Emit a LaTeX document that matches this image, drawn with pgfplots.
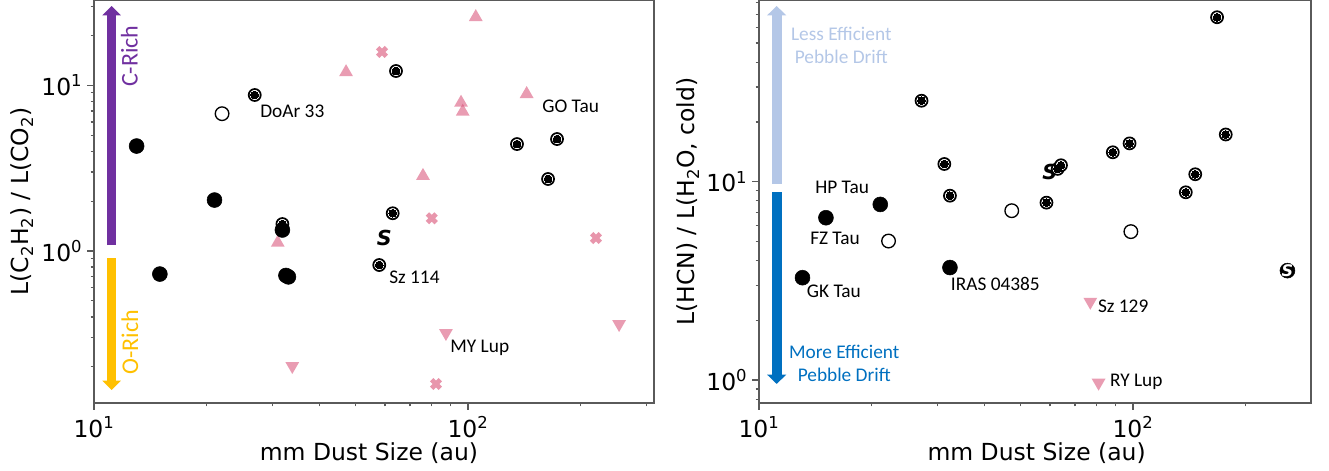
\documentclass[border=0pt]{standalone}
\usepackage{fontspec}
\setmainfont{DejaVu Sans}
\newfontfamily\calfont{Carlito}
\usepackage{pgfplots}
\usepackage{pgfplotstable}
\pgfplotsset{compat=1.18}
\usetikzlibrary{arrows.meta}

\definecolor{crich}{RGB}{112,48,160}
\definecolor{orich}{RGB}{255,192,0}
\definecolor{lessdrift}{RGB}{180,199,231}
\definecolor{moredrift}{RGB}{0,112,192}
\definecolor{pinkbase}{RGB}{215,75,115}
\definecolor{pinkx}{RGB}{232,150,172}
\definecolor{frame}{RGB}{90,90,90}

% ---------------- left panel: C2H2 / CO2 ----------------
\pgfplotstableread{
x y
13.0 4.30
15.0 0.726
21.0 2.03
31.9 1.339
32.6 0.712
33.1 0.698
}\lfilled
\pgfplotstableread{
x y
22.0 6.74
}\lopen
\pgfplotstableread{
x y
31.9 1.455
26.9 8.74
64.2 12.2
62.9 1.69
57.9 0.823
135.2 4.42
173.0 4.74
163.7 2.72
}\ltarget
\pgfplotstableread{
x y
59.7 1.203
}\lS
\pgfplotstableread{
x y
47.2 12.0
104.9 25.8
95.8 7.85
96.8 6.93
143.5 8.86
75.8 2.84
31.0 1.122
}\lup
\pgfplotstableread{
x y
58.9 15.9
80.0 1.575
219.8 1.198
82.1 0.1575
}\lcross
\pgfplotstableread{
x y
87.3 0.320
253.5 0.3625
33.9 0.2023
}\ldown

% ---------------- right panel: HCN / H2O (cold) ----------------
\pgfplotstableread{
x y
13.07 3.28
15.1 6.58
21.1 7.68
32.4 3.69
}\rfilled
\pgfplotstableread{
x y
22.2 5.02
47.4 7.14
98.7 5.60
}\ropen
\pgfplotstableread{
x y
167.8 67.5
27.2 25.6
31.3 12.28
32.4 8.50
62.9 11.6
64.2 12.1
58.7 7.84
88.3 14.07
97.9 15.6
177.0 17.3
146.7 10.9
138.4 8.84
}\rtarget
\pgfplotstableread{
x y
59.9 11.2
}\rS
\pgfplotstableread{
x y
258.8 3.56
}\rSdisk
\pgfplotstableread{
x y
76.9 2.48
80.9 0.969
}\rdown

\tikzset{
  lbl/.style={anchor=west, inner sep=0pt, font=\calfont\fontsize{14.5}{17}\selectfont},
  arrtxt/.style={font=\calfont\fontsize{14.5}{17}\selectfont, inner sep=0pt},
}

\begin{document}
\begin{tikzpicture}
\useasboundingbox (-70.5pt,-51pt) rectangle (926.25pt,302.25pt);

\begin{axis}[
  xmode=log, ymode=log, scale only axis, clip=false,
  at={(0pt,0pt)}, anchor=south west,
  width=420pt, height=302.25pt,
  xmin=10, xmax=314.3, ymin=0.121, ymax=32.72,
  axis line style={draw=frame, line width=1.2pt},
  tick style={draw=frame, line width=0.9pt},
  tick align=outside, xtick pos=left, ytick pos=left,
  major tick length=5.25pt, minor tick length=2.6pt,
  xtick={10,100}, xticklabels={10\textsuperscript{1},10\textsuperscript{2}},
  minor xtick={20,30,40,50,60,70,80,90,200,300},
  ytick={1,10}, yticklabels={10\textsuperscript{0},10\textsuperscript{1}},
  minor ytick={0.2,0.3,0.4,0.5,0.6,0.7,0.8,0.9,2,3,4,5,6,7,8,9,20,30},
  tick label style={font=\fontsize{17.6}{20}\selectfont},
  xticklabel style={yshift=-1.5pt},
  label style={font=\fontsize{17.6}{21}\selectfont},
  xlabel={mm Dust Size (au)},
  ylabel={L(C\textsubscript{2}H\textsubscript{2}) / L(CO\textsubscript{2})},
  ylabel style={at={(axis description cs:-0.1286,0.5)}, anchor=center},
  xlabel style={at={(axis description cs:0.491,-0.125)}, anchor=center},
]
  % C-rich / O-rich guide arrows
  \draw[crich, line width=6.6pt, -{Triangle[width=13.5pt,length=7pt]}]
    (axis cs:11.15,1.087) -- (axis cs:11.15,30.1);
  \draw[orich, line width=6.9pt, -{Triangle[width=13.5pt,length=7pt]}]
    (axis cs:11.15,0.904) -- (axis cs:11.15,0.145);
  \node[rotate=90, text=crich, font=\calfont\fontsize{18}{20}\selectfont] at (axis cs:12.43,15.0) {C-Rich};
  \node[rotate=90, text=orich, font=\calfont\fontsize{18}{20}\selectfont] at (axis cs:12.48,0.282) {O-Rich};

  \addplot[only marks, mark=triangle*, mark size=6pt, mark options={fill=pinkbase, fill opacity=0.55, draw opacity=0}] table {\lup};
  \addplot[only marks, mark=triangle*, mark size=6pt, mark options={rotate=180, fill=pinkbase, fill opacity=0.55, draw opacity=0}] table {\ldown};
  \addplot[only marks, mark=x, mark size=4.6pt, mark options={draw=pinkx, line width=3.6pt}] table {\lcross};
  \addplot[only marks, mark=text, text mark={S}, text mark as node=true,
    text mark style={font=\bfseries\itshape\fontsize{15.5}{16}\selectfont, text=black, inner sep=0pt}] table {\lS};
  \addplot[only marks, mark=*, mark size=5.1pt, mark options={fill=white, draw=black, line width=1pt}] table {\lopen};
  \addplot[only marks, mark=*, mark size=4.5pt, mark options={fill=white, draw=black, line width=1.3pt}] table {\ltarget};
  \addplot[only marks, mark=*, mark size=2.9pt, mark options={fill=black, draw=black, line width=0pt}] table {\ltarget};
  \addplot[only marks, mark=*, mark size=5.6pt, mark options={fill=black, draw=black}] table {\lfilled};

  \node[lbl] at (axis cs:27.8,6.93) {DoAr 33};
  \node[lbl] at (axis cs:157.8,7.50) {GO Tau};
  \node[lbl] at (axis cs:61.5,0.690) {Sz 114};
  \node[lbl] at (axis cs:89.6,0.259) {MY Lup};
\end{axis}

\begin{axis}[
  xmode=log, ymode=log, scale only axis, clip=false,
  at={(498.75pt,0pt)}, anchor=south west,
  width=414pt, height=302.25pt,
  xmin=10, xmax=299.2, ymin=0.7655, ymax=82.46,
  axis line style={draw=frame, line width=1.2pt},
  tick style={draw=frame, line width=0.9pt},
  tick align=outside, xtick pos=left, ytick pos=left,
  major tick length=5.25pt, minor tick length=2.6pt,
  xtick={10,100}, xticklabels={10\textsuperscript{1},10\textsuperscript{2}},
  minor xtick={20,30,40,50,60,70,80,90,200},
  ytick={1,10}, yticklabels={10\textsuperscript{0},10\textsuperscript{1}},
  minor ytick={0.8,0.9,2,3,4,5,6,7,8,9,20,30,40,50,60,70,80},
  tick label style={font=\fontsize{17.6}{20}\selectfont},
  xticklabel style={yshift=-1.5pt},
  label style={font=\fontsize{17.6}{21}\selectfont},
  xlabel={mm Dust Size (au)},
  ylabel={L(HCN) / L(H\textsubscript{2}O, cold)},
  ylabel style={at={(axis description cs:-0.1286,0.5)}, anchor=center},
  xlabel style={at={(axis description cs:0.503,-0.125)}, anchor=center},
]
  % pebble-drift guide arrows
  \draw[lessdrift, line width=7.4pt, -{Triangle[width=14pt,length=7pt]}]
    (axis cs:11.15,9.73) -- (axis cs:11.15,76.9);
  \draw[moredrift, line width=7.4pt, -{Triangle[width=14pt,length=7pt]}]
    (axis cs:11.15,8.87) -- (axis cs:11.15,0.955);
  \node[arrtxt, text=lessdrift] at (axis cs:16.6,55.6) {Less Efficient};
  \node[arrtxt, text=lessdrift] at (axis cs:16.6,42.4) {Pebble Drift};
  \node[arrtxt, text=moredrift] at (axis cs:16.9,1.389) {More Efficient};
  \node[arrtxt, text=moredrift] at (axis cs:16.9,1.06) {Pebble Drift};

  \addplot[only marks, mark=triangle*, mark size=6pt, mark options={rotate=180, fill=pinkbase, fill opacity=0.55, draw opacity=0}] table {\rdown};
  \addplot[only marks, mark=text, text mark={S}, text mark as node=true,
    text mark style={font=\bfseries\itshape\fontsize{15.5}{16}\selectfont, text=black, inner sep=0pt}] table {\rS};
  \addplot[only marks, mark=*, mark size=5.1pt, mark options={fill=white, draw=black, line width=1pt}] table {\ropen};
  \addplot[only marks, mark=*, mark size=4.5pt, mark options={fill=white, draw=black, line width=1.3pt}] table {\rtarget};
  \addplot[only marks, mark=*, mark size=2.9pt, mark options={fill=black, draw=black, line width=0pt}] table {\rtarget};
  \addplot[only marks, mark=*, mark size=5.6pt, mark options={fill=black, draw=black}] table {\rfilled};
  \addplot[only marks, mark=*, mark size=5.6pt, mark options={fill=black, draw=black}] table {\rSdisk};
  \addplot[only marks, mark=text, text mark={S}, text mark as node=true,
    text mark style={font=\bfseries\itshape\fontsize{12}{13}\selectfont, text=white, inner sep=0pt}] table {\rSdisk};

  \node[lbl] at (axis cs:14.12,9.33) {HP Tau};
  \node[lbl] at (axis cs:13.69,5.18) {FZ Tau};
  \node[lbl] at (axis cs:13.41,2.79) {GK Tau};
  \node[lbl] at (axis cs:32.55,3.04) {IRAS 04385};
  \node[lbl] at (axis cs:80.5,2.36) {Sz 129};
  \node[lbl] at (axis cs:86.7,0.98) {RY Lup};
\end{axis}
\end{tikzpicture}
\end{document}
